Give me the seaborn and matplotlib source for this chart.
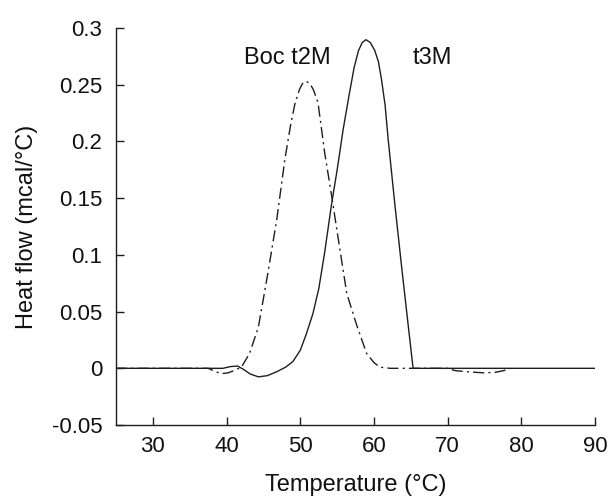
import matplotlib
matplotlib.use("Agg")
import matplotlib.pyplot as plt
import seaborn as sns
import pandas as pd
from matplotlib.ticker import FuncFormatter

# Data
t3m_temp = [25, 39.5, 40.5, 41.5, 42.3, 43.2, 44.3, 45.5, 46.8, 48.0, 49.0, 50.0, 50.8,
            51.7, 52.5, 53.3, 54.2, 55.0, 55.8, 56.6, 57.3, 57.9, 58.4, 58.9, 59.5, 60.1,
            60.6, 61.0, 61.5, 61.9, 62.8, 63.7, 64.6, 65.3, 70, 80, 90]
t3m_flow = [0, 0, 0.0015, 0.002, -0.001, -0.005, -0.0075, -0.0065, -0.003, 0.001, 0.006,
            0.016, 0.030, 0.048, 0.070, 0.102, 0.143, 0.175, 0.210, 0.240, 0.265, 0.280,
            0.287, 0.2895, 0.287, 0.280, 0.270, 0.255, 0.232, 0.203, 0.146, 0.092, 0.040,
            0.0, 0, 0, 0]

boc_temp = [25, 37.5, 38.5, 39.3, 40.2, 41.0, 42.0, 43.1, 44.3, 45.6, 46.8, 47.9, 48.7,
            49.3, 49.9, 50.4, 50.8, 51.3, 51.8, 52.4, 53.3, 54.2, 55.1, 56.3, 57.6, 59.0,
            60.0, 60.8, 62.2, 69.9, 71, 72.6, 74.9, 76.5, 77.6, 78.5]
boc_flow = [0, 0, -0.003, -0.0047, -0.004, -0.002, 0.001, 0.013, 0.036, 0.084, 0.131,
            0.184, 0.215, 0.234, 0.246, 0.252, 0.2527, 0.251, 0.245, 0.234, 0.19, 0.154,
            0.116, 0.066, 0.039, 0.013, 0.005, 0.001, 0, 0, -0.002, -0.003, -0.004,
            -0.0035, -0.002, 0]

x_ticks = [30, 40, 50, 60, 70, 80, 90]
y_ticks = [-0.05, 0, 0.05, 0.1, 0.15, 0.2, 0.25, 0.3]
series_labels = ["Boc t2M", "t3M"]

sns.set_style("ticks")
plt.rcParams['font.family'] = ['Liberation Sans', 'DejaVu Sans']
plt.rcParams['axes.unicode_minus'] = False

fig = plt.figure(figsize=(6.11, 4.96), dpi=100)
ax = fig.add_axes([0.190, 0.143, 0.784, 0.801])

df_t3 = pd.DataFrame({"T": t3m_temp, "H": t3m_flow})
df_boc = pd.DataFrame({"T": boc_temp, "H": boc_flow})

sns.lineplot(data=df_t3, x="T", y="H", ax=ax, sort=False, estimator=None,
             color="#1e1e1e", linewidth=1.0)
sns.lineplot(data=df_boc, x="T", y="H", ax=ax, sort=False, estimator=None,
             color="#1e1e1e", linewidth=1.0, linestyle=(0, (8, 3, 1.5, 3)))

ax.set_xlim(25, 90)
ax.set_ylim(-0.05, 0.3)
ax.set_xticks(x_ticks)
ax.set_yticks(y_ticks)
ax.yaxis.set_major_formatter(FuncFormatter(lambda v, p: f"{v:g}"))

for s in ["top", "right"]:
    ax.spines[s].set_visible(False)
for s in ["left", "bottom"]:
    ax.spines[s].set_linewidth(1.0)
    ax.spines[s].set_color("#1e1e1e")

ax.tick_params(axis="both", direction="in", length=6, width=1.0, color="#1e1e1e",
               labelsize=16, labelcolor="#111111")
ax.tick_params(axis="y", pad=10)
ax.tick_params(axis="x", pad=8)

ax.set_xlabel("Temperature (°C)", fontsize=17, color="#111111", labelpad=12)
ax.set_ylabel("Heat flow (mcal/°C)", fontsize=17, color="#111111", labelpad=10)

ax.text(48.2, 0.273, series_labels[0], fontsize=17, ha="center", va="center", color="#111111")
ax.text(67.9, 0.273, series_labels[1], fontsize=17, ha="center", va="center", color="#111111")

fig.savefig("out.png", dpi=100)
